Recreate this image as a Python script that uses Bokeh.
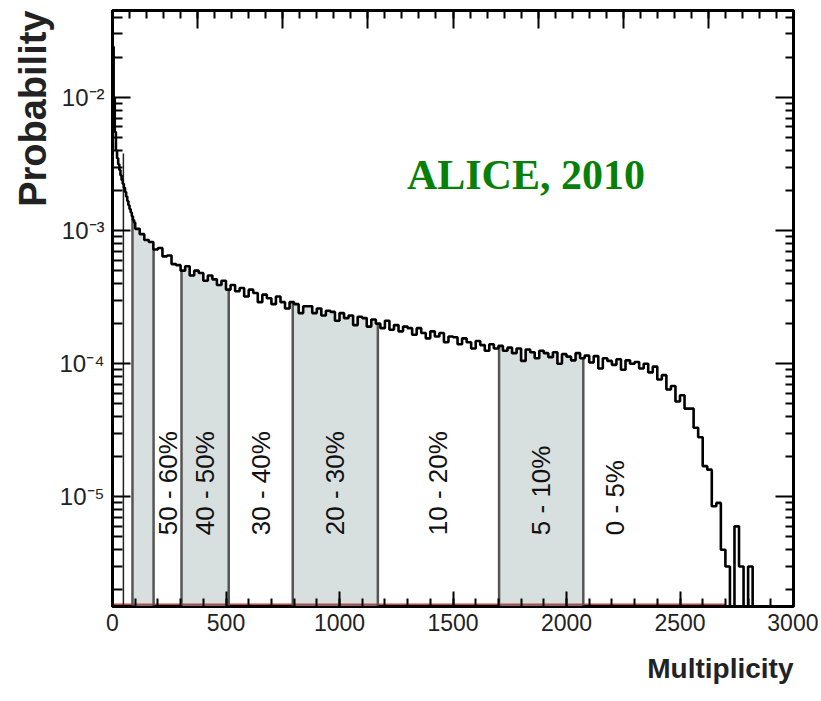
import numpy as np
from bokeh.plotting import figure
from bokeh.models import (LogAxis, LinearAxis, Range1d, FixedTicker, Label, Title,
                          ColumnDataSource, CustomJSTickFormatter)
from bokeh.embed import file_html
from bokeh.resources import INLINE
from bokeh.core.properties import value

# ---------------- data ----------------
# fine bins at very low multiplicity
low_start = 0
low_bin_width = 5
low_probability = [2.4e-2, 1.0e-2, 5.5e-3, 4.0e-3, 3.5e-3, 3.15e-3, 2.85e-3, 2.6e-3, 2.4e-3, 2.25e-3,
                   2.1e-3, 1.95e-3, 1.8e-3, 1.67e-3, 1.55e-3, 1.45e-3, 1.37e-3, 1.28e-3, 1.2e-3, 1.15e-3]

# main bins
main_start = 100
main_bin_width = 20
main_probability = [
    1.03e-3, 9.4e-4, 8.5e-4, 8.2e-4, 7.2e-4, 7.4e-4, 6.4e-4, 6.5e-4, 5.6e-4, 5.5e-4,
    5.0e-4, 5.4e-4, 4.6e-4, 5.0e-4, 4.8e-4, 4.2e-4, 4.6e-4, 4.3e-4, 3.9e-4, 4.2e-4,
    3.6e-4, 3.9e-4, 3.5e-4, 3.7e-4, 3.2e-4, 3.6e-4, 3.4e-4, 2.9e-4, 3.3e-4, 3.1e-4,
    2.8e-4, 3.2e-4, 2.9e-4, 2.6e-4, 2.9e-4, 2.8e-4, 2.4e-4, 2.7e-4, 2.7e-4, 2.4e-4,
    2.6e-4, 2.3e-4, 2.5e-4, 2.45e-4, 2.1e-4, 2.4e-4, 2.2e-4, 2.3e-4, 1.95e-4, 2.25e-4,
    2.2e-4, 1.9e-4, 2.15e-4, 2.0e-4, 1.85e-4, 2.1e-4, 1.8e-4, 1.95e-4, 1.75e-4, 1.9e-4,
    1.85e-4, 1.65e-4, 1.85e-4, 1.7e-4, 1.55e-4, 1.75e-4, 1.6e-4, 1.7e-4, 1.45e-4, 1.6e-4,
    1.58e-4, 1.4e-4, 1.55e-4, 1.45e-4, 1.3e-4, 1.48e-4, 1.38e-4, 1.25e-4, 1.4e-4, 1.3e-4,
    1.36e-4, 1.25e-4, 1.32e-4, 1.2e-4, 1.3e-4, 1.05e-4, 1.28e-4, 1.22e-4, 1.1e-4, 1.25e-4,
    1.2e-4, 1.12e-4, 1.22e-4, 1.0e-4, 1.18e-4, 1.13e-4, 1.06e-4, 1.2e-4, 1.1e-4, 1.15e-4,
    1.02e-4, 1.14e-4, 0.92e-4, 1.1e-4, 1.05e-4, 0.98e-4, 1.08e-4, 0.9e-4, 1.06e-4, 1.0e-4,
    1.03e-4, 9.2e-5, 1.0e-4, 8.6e-5, 9.5e-5, 7.6e-5, 8.2e-5, 6.4e-5, 6.8e-5, 5.2e-5,
    5.8e-5, 4.6e-5, 4.6e-5, 3.3e-5, 2.8e-5, 1.7e-5, 1.6e-5, 8.5e-6, 9.0e-6, 4.0e-6,
    3.0e-6, 0.0, 6.0e-6, 3.0e-6, 0.0, 3.0e-6,
]

# centrality class boundaries (multiplicity)
shaded_classes = [(88, 181), (304, 512), (794, 1169), (1703, 2074)]
class_lines = [88, 181, 304, 512, 794, 1169, 1703, 2074]
peripheral_line = 48
class_labels = ["50 - 60%", "40 - 50%", "30 - 40%", "20 - 30%", "10 - 20%", "5 - 10%", "0 - 5%"]
class_label_lo = [181, 304, 512, 794, 1169, 1703, 2074]
class_label_hi = [304, 512, 794, 1169, 1703, 2074, 2350]
red_line_end = 2700

x_ticks = [0, 500, 1000, 1500, 2000, 2500, 3000]
y_decades = [-5, -4, -3, -2]

# ---------------- figure ----------------
y_lo, y_hi = 1.5e-6, 4.5e-2
p = figure(width=818, height=700, output_backend="svg", toolbar_location=None,
           x_range=Range1d(0, 3000), y_range=Range1d(y_lo, y_hi), y_axis_type="log",
           min_border_left=112, min_border_right=25, min_border_top=10, min_border_bottom=92)
p.xgrid.visible = False
p.ygrid.visible = False
p.background_fill_color = "white"
p.border_fill_color = "white"
p.outline_line_color = "black"
p.outline_line_width = 3

edges = np.concatenate([low_start + low_bin_width * np.arange(len(low_probability)),
                        main_start + main_bin_width * np.arange(len(main_probability) + 1)])
vals = np.array(low_probability + main_probability, dtype=float)
floor = y_lo * 0.3
draw_vals = np.where(vals > 0, vals, floor)


def value_at(m):
    i = np.searchsorted(edges, m, side="right") - 1
    return vals[i]


def band_polygon(lo, hi):
    xs, ys = [lo], [y_lo]
    for i in range(len(vals)):
        l = max(edges[i], lo)
        r = min(edges[i + 1], hi)
        if l < r:
            xs += [l, r]
            ys += [vals[i], vals[i]]
    xs.append(hi)
    ys.append(y_lo)
    return xs, ys


polys = [band_polygon(lo, hi) for lo, hi in shaded_classes]
p.patches(xs=[a for a, b in polys], ys=[b for a, b in polys], fill_color="#d7dfdf", line_color=None)

# red baseline
p.segment(x0=[0], y0=[y_lo * 1.04], x1=[red_line_end], y1=[y_lo * 1.04],
          line_color="#c04848", line_width=1.5)

# class boundary lines
p.segment(x0=class_lines, y0=[y_lo] * len(class_lines), x1=class_lines,
          y1=[value_at(c) for c in class_lines], line_color="#555555", line_width=2.5)
p.segment(x0=[peripheral_line], y0=[y_lo], x1=[peripheral_line], y1=[3.8e-3],
          line_color="#222222", line_width=1.5)

# histogram as step line
sx = np.repeat(edges, 2)[1:-1]
sy = np.repeat(draw_vals, 2)
sx = np.append(sx, edges[-1])
sy = np.append(sy, floor)
p.line(sx, sy, line_color="black", line_width=2.6)

# class labels (rotated)
lab_x = [(a + b) / 2 for a, b in zip(class_label_lo, class_label_hi)]
src = ColumnDataSource(dict(x=lab_x, y=[5.15e-6] * len(lab_x), t=class_labels))
p.text(x="x", y="y", text="t", source=src, angle=np.pi / 2, text_align="left",
       text_baseline="middle", text_font=value("Liberation Sans"), text_font_size="26px",
       text_color="#111111")

# ---------------- axes ----------------
minor_y = [k * 10.0 ** d for d in range(-6, -1) for k in range(2, 10)]
major_y = [10.0 ** d for d in y_decades]
sup_fmt = CustomJSTickFormatter(code="""
const e = Math.round(Math.log10(tick));
const sup = {"-":"\u207b","0":"\u2070","1":"\u00b9","2":"\u00b2","3":"\u00b3","4":"\u2074","5":"\u2075","6":"\u2076","7":"\u2077","8":"\u2078","9":"\u2079"};
return "10" + String(e).split("").map(c => sup[c]).join("");
""")
blank_fmt = CustomJSTickFormatter(code='return "";')

ya = p.yaxis[0]
ya.ticker = FixedTicker(ticks=major_y, minor_ticks=minor_y)
ya.formatter = sup_fmt
xa = p.xaxis[0]
xa.ticker = FixedTicker(ticks=x_ticks, minor_ticks=list(range(0, 3001, 100)))

for ax, big, small in ((ya, 18, 10), (xa, 15, 8)):
    ax.major_tick_in = big
    ax.major_tick_out = 0
    ax.minor_tick_in = small
    ax.minor_tick_out = 0
    ax.major_tick_line_width = 2
    ax.minor_tick_line_width = 2
    ax.axis_line_width = 2
    ax.major_label_text_font = "Liberation Sans"
    ax.major_label_text_color = "#222222"
ya.major_label_text_font_size = "24px"
xa.major_label_text_font_size = "23px"
ya.major_label_standoff = 8
xa.major_label_standoff = 7

p.extra_x_ranges = {"top": Range1d(0, 4000)}
top = LinearAxis(x_range_name="top",
                 ticker=FixedTicker(ticks=list(range(0, 4001, 500)), minor_ticks=list(range(0, 4001, 100))))
right = LogAxis(ticker=FixedTicker(ticks=major_y, minor_ticks=minor_y))
for ax, big, small in ((top, 18, 8), (right, 18, 8)):
    ax.major_tick_in = big
    ax.major_tick_out = 0
    ax.minor_tick_in = small
    ax.minor_tick_out = 0
    ax.major_tick_line_width = 2
    ax.minor_tick_line_width = 2
    ax.axis_line_width = 2
    ax.formatter = blank_fmt
    ax.major_label_standoff = 0
p.add_layout(top, "above")
p.add_layout(right, "right")

# axis titles
p.add_layout(Title(text="Multiplicity", align="right", text_font="Liberation Sans",
                   text_font_style="bold", text_font_size="28px", text_color="#222222",
                   standoff=34), "below")
p.add_layout(Title(text="Probability", align="right", text_font="Liberation Sans",
                   text_font_style="bold", text_font_size="38px", text_color="#222222",
                   standoff=6), "left")
p.add_layout(Label(x=1297, y=2.6e-3, text="ALICE, 2010", text_font="Liberation Serif",
                   text_font_style="bold", text_font_size="42px", text_color="#078007",
                   text_baseline="alphabetic"))

open("out.html", "w").write(file_html(p, INLINE))
